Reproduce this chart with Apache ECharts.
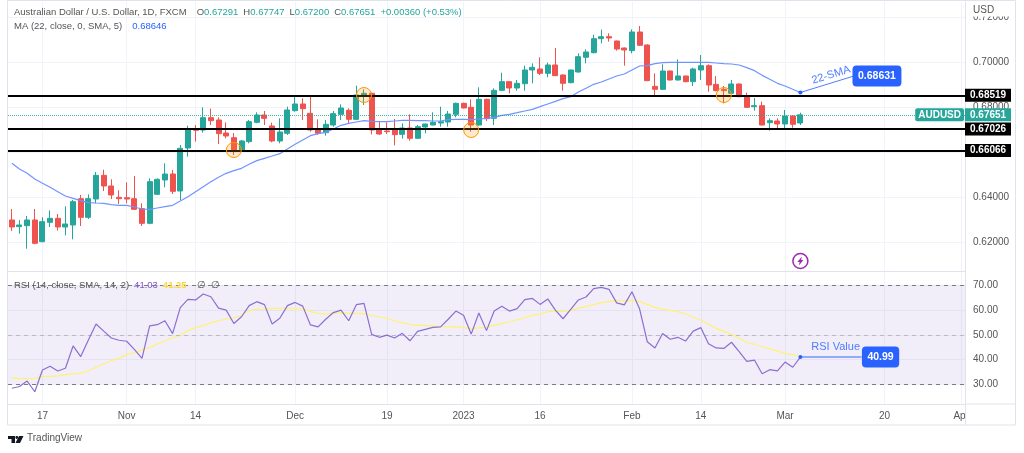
<!DOCTYPE html>
<html>
<head>
<meta charset="utf-8">
<title>AUDUSD</title>
<style>
  html, body { margin: 0; padding: 0; background: #fff; }
  #main { width: 1024px; height: 453px; }
</style>
<script src="https://cdn.jsdelivr.net/npm/echarts@6/dist/echarts.min.js"></script>
</head>
<body>
<div id="main"></div>
<script>
// weekday bars, from the first candle to the right edge of the pane
var firstDay = '2022-10-11';
var barCount = 125;
var tickDates = ['2022-10-17', '2022-11-01', '2022-11-14', '2022-12-01', '2022-12-19', '2023-01-02', '2023-01-16', '2023-02-01', '2023-02-14', '2023-03-01', '2023-03-20', '2023-04-03'];
var tickLabels = ['17', 'Nov', '14', 'Dec', '19', '2023', '16', 'Feb', '14', 'Mar', '20', 'Apr'];
var priceTicks = [0.62, 0.64, 0.66, 0.68, 0.70, 0.72];
var rsiTicks = [30, 40, 50, 60, 70];

var opens = [
  .62978, .62682, .62726, .62978, .62015, .62874, .63052, .62667, .62756, .63926,
  .63097, .63911, .64963, .64489, .63985, .63971, .63926, .63482, .6283, .64119,
  .64756, .65022, .64267, .66178, .67008, .66978, .67526, .67423, .66845, .66636,
  .66031, .6646, .67319, .67645, .67156, .66489, .6683, .67837, .68134, .67719,
  .66978, .6686, .672, .67674, .67852, .67452, .68519, .68608, .66978, .66934,
  .66978, .66786, .67067, .66608, .67111, .672, .67289, .67334, .67674, .68163,
  .67986, .672, .68341, .67497, .68741, .69126, .68845, .69037, .69645, .69689,
  .69497, .69867, .69423, .69082, .69556, .70208, .70415, .71037, .71126, .70934,
  .70623, .70504, .71334, .70756, .68919, .68786, .696, .692, .69378, .69126,
  .69645, .69837, .69008, .68786, .68608, .69023, .68489, .68015, .6806, .67304,
  .67378, .67245, .676, .67291
];
var closes = [
  .62667, .62756, .62978, .61941, .62904, .63052, .62667, .628, .63793, .63097,
  .63926, .64963, .64489, .64089, .63926, .63911, .63452, .6283, .64682, .64785,
  .65022, .64252, .66163, .67009, .66963, .67526, .67393, .66815, .66712, .66044,
  .66489, .67349, .67645, .67497, .66489, .66889, .67867, .68134, .67926, .66978,
  .6683, .6723, .67704, .67956, .67452, .68534, .68608, .66978, .668, .66904,
  .66771, .67067, .66608, .67126, .67245, .67319, .67348, .67689, .68163, .67956,
  .672, .68341, .67482, .68741, .69126, .68845, .69052, .69645, .69763, .69497,
  .69867, .69393, .69052, .69645, .70237, .70445, .71037, .71126, .71067, .70578,
  .70534, .71334, .70741, .69171, .68786, .696, .692, .69378, .69126, .69689,
  .69837, .68978, .68726, .68726, .69023, .6846, .67986, .6806, .672, .67393,
  .67245, .676, .6723, .67651
];
var lows = [
  .62489, .62371, .61704, .619, .6199, .62667, .62504, .62297, .62119, .62711,
  .63022, .63719, .64267, .63911, .63689, .63719, .63422, .62711, .6279, .64089,
  .6443, .64134, .63867, .65791, .6646, .6686, .672, .66356, .66608, .65867,
  .66, .66386, .67275, .672, .6643, .66386, .66756, .67793, .67423, .66904,
  .66756, .66726, .67126, .67423, .67274, .6742, .68089, .66786, .66756, .668,
  .66297, .66593, .66504, .6659, .6683, .6719, .67126, .67126, .67541, .67941,
  .66904, .6717, .67378, .672, .6871, .68608, .68726, .68726, .69052, .69423,
  .69319, .6937, .68726, .69052, .6953, .69941, .70386, .7083, .70904, .70504,
  .69837, .70386, .70711, .6915, .68534, .68756, .6918, .6918, .69097, .68934,
  .692, .68682, .687, .68163, .6859, .6843, .67956, .67837, .6718, .66948,
  .67023, .66978, .67082, .672
];
var highs = [
  .63467, .62978, .63156, .63467, .63097, .63408, .63245, .63585, .63867, .64089,
  .64119, .65111, .65215, .64785, .64297, .64652, .64934, .63719, .6483, .6483,
  .65497, .652, .66311, .67169, .672, .67986, .67926, .67541, .67319, .66844,
  .66533, .67423, .67763, .67823, .67304, .67497, .68015, .6846, .68386, .68534,
  .67452, .67423, .67823, .68119, .67941, .68948, .68786, .68637, .67348, .67319,
  .67467, .67274, .67674, .672, .6726, .67763, .68015, .67823, .68193, .68193,
  .68341, .68874, .68371, .6883, .69526, .6914, .692, .69837, .69941, .70208,
  .69971, .70623, .6945, .6966, .70386, .70563, .71215, .71437, .71274, .7095,
  .7064, .71452, .716, .70786, .69497, .69897, .6962, .70119, .6939, .69748,
  .70311, .69897, .69378, .68934, .692, .6904, .68637, .684, .68237, .67497,
  .67497, .67867, .6763, .67747
];
var ma22 = [
  .65497, .65245, .65052, .648, .6461, .6443, .64237, .64045, .63941, .63837,
  .63748, .63733, .63719, .6366, .6363, .6363, .63556, .63467, .63452, .63511,
  .63571, .6363, .63822, .64015, .64237, .64459, .64682, .64874, .65052, .65171,
  .65274, .65452, .65615, .65719, .65822, .65926, .66133, .66341, .66534, .66726,
  .66815, .66874, .67022, .67186, .67274, .67334, .67393, .67363, .67348, .67348,
  .67378, .67408, .67408, .67393, .67393, .67378, .67378, .67437, .67452, .67452,
  .67437, .67467, .67497, .67541, .6763, .67674, .67748, .67823, .67897, .68015,
  .68134, .68252, .68371, .6846, .68667, .6883, .69008, .69111, .69245, .69378,
  .69467, .69645, .69823, .69837, .69926, .6997, .69986, .69986, .69986, .69986,
  .69986, .69986, .69956, .69926, .69911, .69867, .69748, .69615, .69407, .6923,
  .69052, .68934, .68786, .68646
];
var rsi = [
  28.4, 29.1, 31.3, 27.0, 35.8, 37.3, 35.4, 36.5, 45.5, 41.2,
  47.9, 54.4, 51.5, 48.7, 47.8, 47.4, 44.1, 40.5, 53.6, 54.1,
  55.7, 50.5, 61, 64.3, 64.1, 66.5, 65.4, 60.8, 60, 54.6,
  57.3, 61.8, 63.4, 62.2, 54.4, 56.7, 61.8, 63.1, 61.6, 54,
  53.2, 56.3, 59, 60, 55.7, 62.2, 62.7, 50.2, 49, 49.9,
  48.7, 50.6, 47.6, 51.4, 52.2, 53, 53.2, 56.3, 59.6, 57.9,
  50.3, 58.8, 51.7, 59.6, 61.6, 59.6, 60.6, 64.2, 64.7, 62.3,
  64.5, 60, 56.5, 60.3, 64.1, 65.3, 68.7, 69.2, 68.4, 62.9,
  62.1, 67.4, 60.4, 47.2, 44.7, 50.5, 48.2, 49, 47.5, 51.5,
  52.9, 46.4, 44.7, 44.5, 47, 43.2, 39.3, 39.8, 34.3, 35.9,
  35.4, 39, 36.9, 41.03
];
var rsiMa = [
  32.8, 32.3, 32.3, 32.4, 33.2, 33.2, 33.4, 33.9, 34.2, 34.4,
  35.5, 36.9, 38.2, 39.6, 40.6, 42, 42.8, 43.9, 44.9, 46.3,
  47.6, 48.7, 49.9, 51.7, 52.9, 53.7, 54.9, 55.7, 56.4, 56.7,
  58, 59.8, 60.3, 60.4, 60.6, 60.7, 60.7, 60.7, 60.6, 59.5,
  58.7, 58.4, 58.6, 59, 58.7, 58.7, 58.6, 57.8, 57.2, 56.7,
  55.7, 54.9, 54.2, 53.8, 53.8, 53.6, 53.3, 53.2, 53.3, 52.9,
  52.4, 52.8, 53, 53.8, 54.6, 55.3, 56.1, 56.9, 57.9, 58.4,
  59.4, 59.6, 59.5, 59.9, 60.8, 61.4, 62.2, 63, 63.4, 63.8,
  63.8, 63.9, 63.4, 62.3, 61.1, 60.3, 59.9, 59.4, 58.4, 57.2,
  56, 54.4, 52.6, 51.4, 50.2, 48.6, 47, 46.2, 45.2, 44.3,
  43.5, 42.5, 41.9, 41.25
];
// drawn horizontals and callouts
var levels = [0.68519, 0.67026, 0.66066];
var lastPrice = 0.67651;
var circleBars = [29, 46, 60, 93];
var circlePrices = [0.66089, 0.68533, 0.66978, 0.68533];
var smaCallout = [[103, 0.68646], [110, 0.69378]];
var smaBox = [113, 0.69378];
var smaText = [107, 0.69422];
var rsiCallout = [[103, 41.03], [111, 41.03]];
var rsiBox = [113, 41.03];
var rsiText = [108, 45.1];
var eventPoint = [103, 0.61156];

var UP = '#26a69a', DOWN = '#ef5350', BLUE = '#2962ff', FONT = '"Liberation Sans", Arial, sans-serif';

var categories = [];
var d = new Date(firstDay + 'T00:00:00Z');
while (categories.length < barCount) {
  if (d.getUTCDay() !== 0 && d.getUTCDay() !== 6) {
    categories.push(d.toISOString().slice(0, 10));
  }
  d.setUTCDate(d.getUTCDate() + 1);
}

var candleData = [];
for (var i = 0; i < opens.length; i++) {
  candleData.push([opens[i], closes[i], lows[i], highs[i]]);
}

var circleData = [];
for (var j = 0; j < circleBars.length; j++) {
  circleData.push([circleBars[j], circlePrices[j]]);
}

function isTick(index, value) {
  return tickDates.indexOf(value) >= 0;
}

function levelLine(v) {
  return {
    yAxis: v,
    lineStyle: { color: '#000', width: 2, type: 'solid' },
    label: {
      show: true, position: 'end', distance: 0, formatter: v.toFixed(5),
      backgroundColor: '#000', color: '#fff', fontFamily: FONT, fontSize: 10, fontWeight: 'bold',
      padding: [2, 5, 1, 5], width: 36, align: 'left'
    }
  };
}

function xAxisFor(gridIndex, showLabel) {
  return {
    type: 'category', gridIndex: gridIndex, data: categories, boundaryGap: true,
    axisLine: { show: true, lineStyle: { color: '#e0e3eb' } },
    axisTick: { show: false, alignWithLabel: true, interval: isTick },
    splitLine: { show: true, interval: isTick, alignWithLabel: true, lineStyle: { color: '#f0f3fa' } },
    axisLabel: {
      show: showLabel, interval: isTick, color: '#555', fontFamily: FONT, fontSize: 10, margin: 7,
      hideOverlap: false,
      formatter: function (v) { return tickLabels[tickDates.indexOf(v)] || ''; }
    }
  };
}

function yAxisFor(gridIndex, min, max, ticks, digits) {
  return {
    type: 'value', gridIndex: gridIndex, position: 'right', min: min, max: max, scale: true,
    axisLine: { show: true, lineStyle: { color: '#e0e3eb' } },
    axisTick: { show: false, customValues: ticks },
    splitLine: { show: true, lineStyle: { color: '#f0f3fa' } },
    axisLabel: {
      customValues: ticks, color: '#555', fontFamily: FONT, fontSize: 10, margin: 8, align: 'left',
      padding: [2, 0, 0, 0],
      formatter: function (v) { return v.toFixed(digits); }
    }
  };
}

function hiddenLabel(axisIdx, point, label) {
  return {
    type: 'scatter', xAxisIndex: axisIdx, yAxisIndex: axisIdx, data: [point], symbolSize: 1, z: 8,
    itemStyle: { color: 'transparent', opacity: 1 }, silent: true,
    label: Object.assign({ show: true, position: 'inside', fontFamily: FONT }, label)
  };
}

var blueBox = {
  backgroundColor: BLUE, color: '#fff', fontSize: 10.5, fontWeight: 'bold',
  borderRadius: 4, padding: [5, 5.5, 5, 5.5]
};

var chart = echarts.init(document.getElementById('main'), null, { renderer: 'canvas' });
chart.setOption({
  animation: false,
  backgroundColor: '#fff',
  textStyle: { fontFamily: FONT },
  title: [
    {
      left: 14, top: 3, padding: 0, itemGap: 0,
      text: '{g|Australian Dollar / U.S. Dollar, 1D, FXCM}  {g|O}{t|0.67291} {g|H}{t|0.67747} {g|L}{t|0.67200} {g|C}{t|0.67651} {t|+0.00360 (+0.53%)}',
      textStyle: {
        fontWeight: 'normal',
        rich: {
          g: { color: '#555', fontSize: 9.5, fontFamily: FONT, fontWeight: 'normal' },
          t: { color: UP, fontSize: 9.5, fontFamily: FONT, fontWeight: 'normal' }
        }
      }
    },
    {
      left: 14, top: 17, padding: 0,
      text: '{g|MA (22, close, 0, SMA, 5)}  {b|0.68646}',
      textStyle: {
        fontWeight: 'normal',
        rich: {
          g: { color: '#555', fontSize: 9.5, fontFamily: FONT, fontWeight: 'normal' },
          b: { color: BLUE, fontSize: 9.5, fontFamily: FONT, fontWeight: 'normal' }
        }
      }
    },
    {
      left: 14, top: 276, padding: 0,
      text: '{g|RSI (14, close, SMA, 14, 2)} {p|41.03} {y|41.25}  {g|∅  ∅}',
      textStyle: {
        fontWeight: 'normal',
        rich: {
          g: { color: '#555', fontSize: 9.5, fontFamily: FONT, fontWeight: 'normal' },
          p: { color: '#7e57c2', fontSize: 9.5, fontFamily: FONT, fontWeight: 'normal' },
          y: { color: '#fdd835', fontSize: 9.5, fontWeight: 'bold', fontFamily: FONT }
        }
      }
    }
  ],
  grid: [
    { left: 8, right: 59, top: 2, height: 269 },
    { left: 8, right: 59, top: 271, height: 133 }
  ],
  xAxis: [xAxisFor(0, false), xAxisFor(1, true)],
  yAxis: [
    yAxisFor(0, 0.60711, 0.72667, priceTicks, 5),
    yAxisFor(1, 22.04, 75.8, rsiTicks, 2)
  ],
  series: [
    {
      type: 'candlestick', xAxisIndex: 0, yAxisIndex: 0, data: candleData, barWidth: 5.5, z: 3,
      itemStyle: { color: UP, color0: DOWN, borderColor: UP, borderColor0: DOWN, borderWidth: 1 },
      markLine: {
        silent: true, symbol: 'none', animation: false, z: 5, precision: 5,
        data: levels.map(levelLine).concat([
          {
            yAxis: lastPrice,
            lineStyle: { color: 'rgba(38,166,154,0.6)', width: 1, type: 'dotted' },
            label: {
              show: true, position: 'end', distance: 0, formatter: lastPrice.toFixed(5),
              backgroundColor: UP, color: '#fff', fontFamily: FONT, fontSize: 10, fontWeight: 'bold',
              padding: [2, 5, 1, 5], width: 36, align: 'left'
            }
          },
          {
            yAxis: lastPrice,
            lineStyle: { color: 'rgba(38,166,154,0.6)', width: 1, type: 'dotted' },
            label: {
              show: true, position: 'insideEnd', distance: 1, formatter: 'AUDUSD',
              backgroundColor: UP, color: '#fff', fontFamily: FONT, fontSize: 10, fontWeight: 'bold',
              padding: [2, 3, 1, 3], borderRadius: 2
            }
          }
        ])
      }
    },
    {
      type: 'line', xAxisIndex: 0, yAxisIndex: 0, data: ma22, symbol: 'none', z: 4,
      lineStyle: { color: '#6f94ff', width: 1.2 }
    },
    {
      type: 'scatter', xAxisIndex: 0, yAxisIndex: 0, data: circleData, symbolSize: 15, z: 6, silent: true,
      itemStyle: { color: 'rgba(255,152,0,0.2)', borderColor: '#ff9800', borderWidth: 1, opacity: 1 }
    },
    {
      type: 'line', xAxisIndex: 0, yAxisIndex: 0, data: smaCallout, z: 7, silent: true, showAllSymbol: true,
      symbol: function (v, p) { return p.dataIndex === 0 ? 'circle' : 'none'; }, symbolSize: 4,
      itemStyle: { color: BLUE }, lineStyle: { color: '#4f7dff', width: 1 }
    },
    hiddenLabel(0, smaBox, Object.assign({ formatter: '0.68631' }, blueBox)),
    hiddenLabel(0, smaText, { formatter: '22-SMA', rotate: 17, color: '#4f7dff', fontSize: 11 }),
    {
      type: 'scatter', xAxisIndex: 0, yAxisIndex: 0, data: [eventPoint], symbolSize: 15, z: 6, silent: true,
      itemStyle: { color: '#fff', borderColor: '#9c27b0', borderWidth: 1.5, opacity: 1 }
    },
    {
      type: 'scatter', xAxisIndex: 0, yAxisIndex: 0, data: [eventPoint], symbolSize: [6, 9], z: 7, silent: true,
      symbol: 'path://M6 0 L0 6 L3 6 L2 10 L8 4 L5 4 Z', itemStyle: { color: '#9c27b0', opacity: 1 }
    },
    {
      type: 'line', xAxisIndex: 1, yAxisIndex: 1, data: rsi, symbol: 'none', z: 4,
      lineStyle: { color: '#8b6fd0', width: 1.2 },
      markArea: {
        silent: true, animation: false,
        itemStyle: { color: 'rgba(126,87,194,0.1)' },
        data: [[{ yAxis: 70 }, { yAxis: 30 }]]
      },
      markLine: {
        silent: true, symbol: 'none', animation: false, label: { show: false },
        data: [
          { yAxis: 70, lineStyle: { color: '#787b86', type: [4, 4], width: 1 } },
          { yAxis: 50, lineStyle: { color: 'rgba(120,123,134,0.4)', type: [4, 4], width: 1 } },
          { yAxis: 30, lineStyle: { color: '#787b86', type: [4, 4], width: 1 } }
        ]
      }
    },
    {
      type: 'line', xAxisIndex: 1, yAxisIndex: 1, data: rsiMa, symbol: 'none', z: 3,
      lineStyle: { color: '#fff176', width: 1.2 }
    },
    {
      type: 'line', xAxisIndex: 1, yAxisIndex: 1, data: rsiCallout, z: 7, silent: true, showAllSymbol: true,
      symbol: function (v, p) { return p.dataIndex === 0 ? 'circle' : 'none'; }, symbolSize: 4,
      itemStyle: { color: BLUE }, lineStyle: { color: '#6f94ff', width: 1.5 }
    },
    hiddenLabel(1, rsiBox, Object.assign({ formatter: '40.99', offset: [3.6, 0] }, blueBox)),
    hiddenLabel(1, rsiText, { formatter: 'RSI Value', color: '#4f7dff', fontSize: 11, offset: [-3, 0] })
  ],
  graphic: [
    // hides the part of the last date label running under the price scale
    { type: 'rect', z: 100, shape: { x: 965.5, y: 405, width: 50, height: 19.5 }, style: { fill: '#fff' } },
    // top of the price scale, the first tick label sits half under the currency
    { type: 'rect', z: 100, shape: { x: 966, y: 1, width: 49, height: 15.5 }, style: { fill: '#fff' } },
    { type: 'rect', z: 101, shape: { x: 7.5, y: 0.5, width: 1008, height: 424.5 }, style: { fill: 'none', stroke: '#e0e3eb' } },
    { type: 'line', z: 101, shape: { x1: 965.5, y1: 404, x2: 965.5, y2: 425 }, style: { stroke: '#e0e3eb' } },
    { type: 'line', z: 101, shape: { x1: 965.5, y1: 404, x2: 1016, y2: 404 }, style: { stroke: '#e0e3eb' } },
    { type: 'text', z: 101, x: 973, y: 5, style: { text: 'USD', fill: '#555', font: '10px ' + FONT } },
    // TradingView mark
    { type: 'polygon', z: 101, shape: { points: [[8, 436], [15, 436], [15, 443], [11.5, 443], [11.5, 439], [8, 439]] }, style: { fill: '#131722' } },
    { type: 'circle', z: 101, shape: { cx: 16.8, cy: 437.5, r: 1.4 }, style: { fill: '#131722' } },
    { type: 'polygon', z: 101, shape: { points: [[19, 436], [23.5, 436], [20, 443], [15.5, 443]] }, style: { fill: '#131722' } },
    { type: 'text', z: 101, x: 27, y: 433, style: { text: 'TradingView', fill: '#555', font: '10px ' + FONT } }
  ]
});
</script>
</body>
</html>
